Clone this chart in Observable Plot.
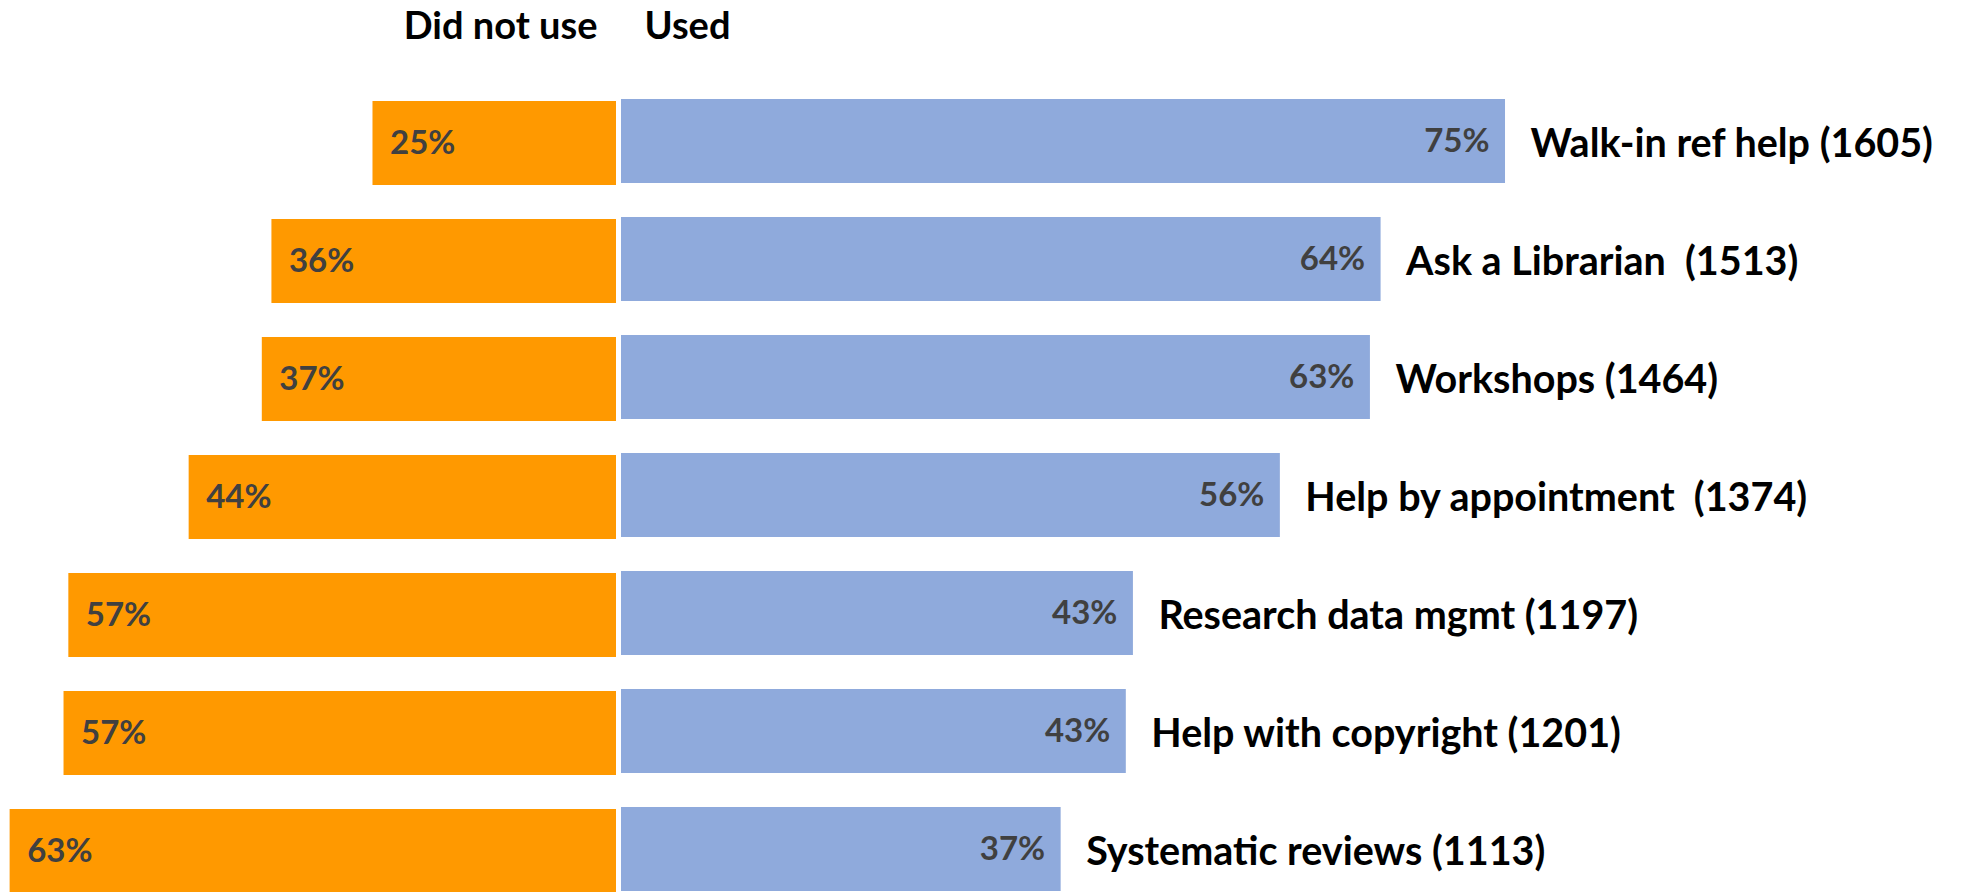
<!DOCTYPE html>
<html>
<head>
<meta charset="utf-8">
<script src="https://cdn.jsdelivr.net/npm/d3@7"></script>
<script src="https://cdn.jsdelivr.net/npm/@observablehq/plot@0.6"></script>
<style>
  html, body { margin: 0; padding: 0; background: white; overflow: hidden; }
  #chart { display: flex; flex-direction: row; width: 1965px; height: 892px; }
  #chart svg { display: block; flex: none; }
</style>
</head>
<body>
<div id="chart"></div>
<script>
// Categories (service and number of respondents)
const categories = [
  "Walk-in ref help (1605)",
  "Ask a Librarian  (1513)",
  "Workshops (1464)",
  "Help by appointment  (1374)",
  "Research data mgmt (1197)",
  "Help with copyright (1201)",
  "Systematic reviews (1113)"
];
// Percent of respondents who did not use the service
const notUsed = [25.3, 35.8, 36.8, 44.4, 56.9, 57.4, 63.0];
// Percent of respondents who used the service
const used = [74.6, 64.1, 63.2, 55.6, 43.2, 42.6, 37.1];
// Column headers
const headerLeft = ["Did not use"];
const headerRight = ["Used"];

const rows = categories.map((label, i) => ({label, notUsed: notUsed[i], used: used[i]}));
const pct = v => `${Math.round(v)}%`;

const FONT = "Lato, 'Open Sans', sans-serif";
const ORANGE = "#ff9900";
const BLUE = "#8faadc";
const LABEL_GREY = "#404040";

const left = Plot.plot({
  width: 616,
  height: 892,
  margin: 0,
  x: {domain: [0, 64], range: [616, 0], axis: null},
  y: {domain: categories, range: [81.9, 913.1], paddingInner: 0.284, paddingOuter: 0.142, axis: null},
  style: {fontFamily: FONT, fontWeight: "bold", background: "white"},
  marks: [
    Plot.barX(rows, {x: "notUsed", y: "label", fill: ORANGE}),
    Plot.text(rows, {x: "notUsed", y: "label", text: d => pct(d.notUsed), textAnchor: "start", dx: 17, fill: LABEL_GREY, fontSize: 33}),
    Plot.text(headerLeft, {x: () => 0, frameAnchor: "top", lineAnchor: "bottom", dy: 38, dx: -19, textAnchor: "end", fontSize: 38, fill: "black"})
  ]
});

const right = Plot.plot({
  width: 1349,
  height: 892,
  margin: 0,
  x: {domain: [0, 100], range: [5, 1190], axis: null},
  y: {domain: categories, range: [79.4, 910.6], paddingInner: 0.284, paddingOuter: 0.142, axis: null},
  style: {fontFamily: FONT, fontWeight: "bold", background: "white"},
  marks: [
    Plot.barX(rows, {x: "used", y: "label", fill: BLUE}),
    Plot.text(rows, {x: "used", y: "label", text: d => pct(d.used), textAnchor: "end", dx: -16, fill: LABEL_GREY, fontSize: 33}),
    Plot.text(rows, {x: "used", y: "label", text: "label", textAnchor: "start", dx: 25, dy: 3, fill: "black", fontSize: 39.5}),
    Plot.text(headerRight, {x: () => 0, frameAnchor: "top", lineAnchor: "bottom", dy: 38, dx: 23, textAnchor: "start", fontSize: 38, fill: "black"})
  ]
});

const chart = document.getElementById("chart");
chart.appendChild(left);
chart.appendChild(right);
</script>
</body>
</html>
